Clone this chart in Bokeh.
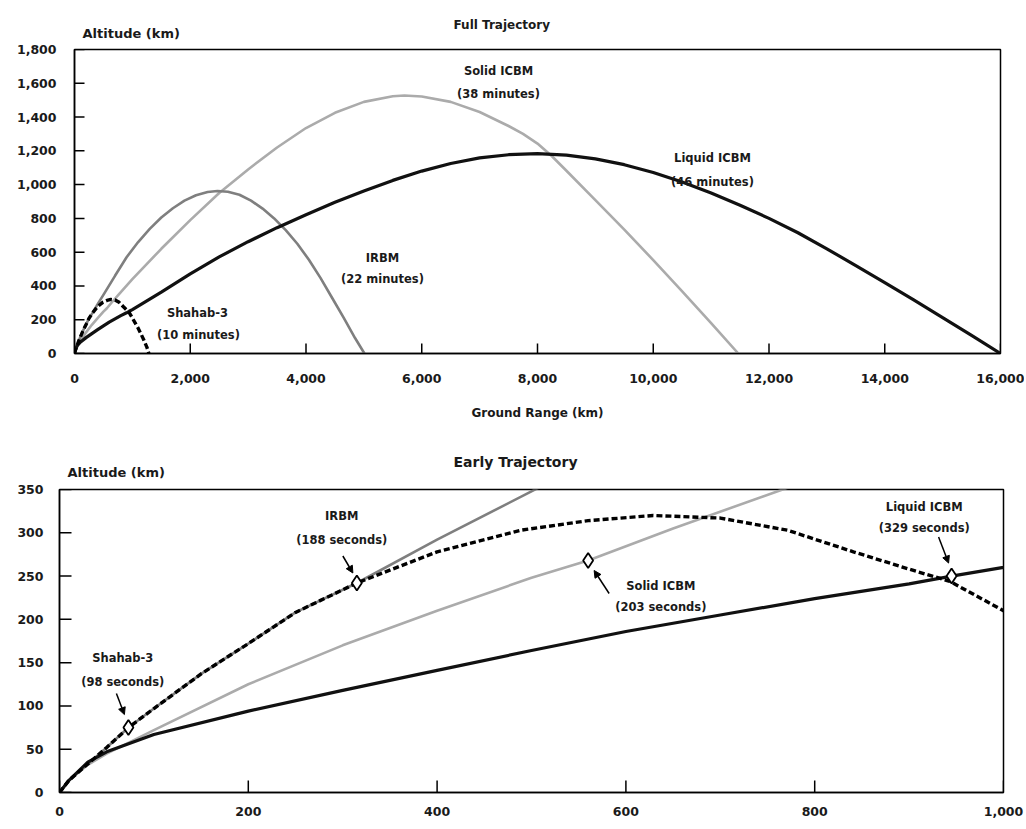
import math
from bokeh.plotting import figure
from bokeh.models import (Range1d, Label, Arrow, NormalHead, NumeralTickFormatter,
                          FixedTicker, Title)
from bokeh.layouts import column
from bokeh.embed import file_html
from bokeh.resources import INLINE

# ---------------- data (ground range km, altitude km) ----------------
liquid_range = [0, 10, 30, 50, 100, 200, 300, 400, 500, 600, 700, 800, 900, 945, 1000,
                1500, 2000, 2500, 3000, 3500, 4000, 4500, 5000, 5500, 6000, 6500, 7000,
                7500, 8000, 8500, 9000, 9500, 10000, 10500, 11000, 11500, 12000, 12500,
                13000, 13500, 14000, 14500, 15000, 15500, 16000]
liquid_alt = [0, 14, 35, 47, 67, 94, 118, 141, 164, 186, 205, 224, 241, 250, 260,
              364, 472, 572, 662, 745, 822, 895, 962, 1025, 1080, 1125, 1158,
              1177, 1183, 1175, 1152, 1118, 1072, 1015, 950, 878, 800, 715,
              620, 520, 420, 317, 213, 107, 0]

solid_range = [0, 10, 30, 50, 100, 200, 300, 400, 500, 560, 650, 766, 1000, 1500, 2000,
               2500, 3000, 3500, 4000, 4500, 5000, 5500, 5700, 6000, 6500, 7000, 7500,
               7750, 8000, 8250, 8500, 9000, 9500, 10000, 10500, 11000, 11470]
solid_alt = [0, 14, 32, 45, 72, 125, 170, 210, 248, 268, 305, 350, 440, 620, 790,
             950, 1090, 1220, 1335, 1425, 1490, 1523, 1528, 1522, 1490, 1430, 1347,
             1300, 1243, 1168, 1082, 908, 733, 553, 368, 180, 0]

irbm_range = [0, 10, 30, 50, 73, 100, 150, 200, 250, 315, 400, 502, 700, 900, 1100,
              1300, 1500, 1700, 1900, 2100, 2300, 2470, 2650, 2850, 3050, 3250, 3450,
              3650, 3850, 4050, 4250, 4450, 4650, 4850, 5010]
irbm_alt = [0, 14, 33, 52, 75, 97, 137, 172, 208, 242, 292, 349, 460, 570, 660,
            738, 805, 860, 905, 937, 956, 962, 958, 940, 905, 858, 800,
            730, 650, 555, 448, 330, 212, 90, 0]

shahab_range = [0, 10, 30, 50, 73, 100, 150, 200, 250, 315, 400, 489, 560, 629, 700,
                771, 841, 900, 943, 1000, 1050, 1100, 1150, 1200, 1250, 1285]
shahab_alt = [0, 14, 33, 52, 75, 97, 137, 172, 208, 242, 278, 303, 314, 320, 317,
              303, 278, 258, 244, 210, 180, 150, 115, 78, 38, 0]

# burnout points (early trajectory)
burnout_names = ["Shahab-3", "IRBM", "Solid ICBM", "Liquid ICBM"]
burnout_seconds = [98, 188, 203, 329]
burnout_range = [73, 315, 560, 945]
burnout_alt = [75, 242, 268, 250]

flight_minutes = {"Shahab-3": 10, "IRBM": 22, "Solid ICBM": 38, "Liquid ICBM": 46}

top_xticks = [0, 2000, 4000, 6000, 8000, 10000, 12000, 14000, 16000]
top_yticks = [0, 200, 400, 600, 800, 1000, 1200, 1400, 1600, 1800]
bot_xticks = [0, 200, 400, 600, 800, 1000]
bot_yticks = [0, 50, 100, 150, 200, 250, 300, 350]

# ---------------- styling ----------------
FONT = "DejaVu Sans"
TXT = "#1a1a1a"
C_LIQ = "#111111"
C_SOL = "#ababab"
C_IRBM = "#7f7f7f"


def style(p, xticks, yticks, xstand, ystand, tick_len):
    p.grid.visible = False
    p.frame_align = False
    p.outline_line_color = "black"
    p.outline_line_width = 1.5
    p.xaxis.ticker = FixedTicker(ticks=xticks)
    p.yaxis.ticker = FixedTicker(ticks=yticks)
    p.xaxis.formatter = NumeralTickFormatter(format="0,0")
    p.yaxis.formatter = NumeralTickFormatter(format="0,0")
    for ax in (p.xaxis, p.yaxis):
        ax.axis_line_width = 1.5
        ax.axis_line_color = "black"
        ax.major_tick_in = 0
        ax.major_tick_out = 0
        ax.major_tick_line_color = None
        ax.minor_tick_line_color = None
        ax.major_label_text_font = FONT
        ax.major_label_text_font_style = "bold"
        ax.major_label_text_font_size = "12.5px"
        ax.major_label_text_color = TXT
    p.xaxis.major_label_standoff = xstand
    p.yaxis.major_label_standoff = ystand
    # inward tick marks: dash markers centred on the axis, outer half clipped by the frame
    x0 = p.x_range.start
    y0 = p.y_range.start
    p.scatter(xticks, [y0] * len(xticks), marker="dash", angle=math.pi / 2,
              size=2 * tick_len, line_color="black", line_width=1.5)
    p.scatter([x0] * len(yticks), yticks, marker="dash",
              size=2 * tick_len, line_color="black", line_width=1.5)


def titles(p, main, main_size, main_offset, main_standoff, alt_offset, alt_standoff):
    # first added sits nearest to the frame
    p.add_layout(Title(text="Altitude (km)", align="left", offset=alt_offset,
                       standoff=alt_standoff, text_font=FONT, text_font_style="bold",
                       text_font_size="13px", text_color=TXT), "above")
    p.add_layout(Title(text=main, align="left", offset=main_offset,
                       standoff=main_standoff, text_font=FONT, text_font_style="bold",
                       text_font_size=main_size, text_color=TXT), "above")


def lab(p, x, y, text, align="center", size="11.5px"):
    p.add_layout(Label(x=x, y=y, text=text, text_align=align, text_baseline="middle",
                       text_font=FONT, text_font_style="bold", text_font_size=size,
                       text_color=TXT))


def curves(p, w):
    p.line(solid_range, solid_alt, line_color=C_SOL, line_width=w)
    p.line(irbm_range, irbm_alt, line_color=C_IRBM, line_width=w)
    p.line(liquid_range, liquid_alt, line_color=C_LIQ, line_width=w + 0.6)
    p.line(shahab_range, shahab_alt, line_color="black", line_width=w + 0.8, line_dash="6 3")


# ---------------- top panel: full trajectory ----------------
p1 = figure(width=1024, height=430, x_range=Range1d(0, 16000), y_range=Range1d(0, 1800),
            output_backend="svg", toolbar_location=None, title=None,
            min_border_left=74, min_border_right=24, min_border_top=49, min_border_bottom=77)
style(p1, top_xticks, top_yticks, 20, 18, 10)
p1.xaxis.axis_label = "Ground Range (km)"
p1.xaxis.axis_label_text_font = FONT
p1.xaxis.axis_label_text_font_style = "bold"
p1.xaxis.axis_label_text_font_size = "12px"
p1.xaxis.axis_label_text_color = TXT
p1.xaxis.axis_label_standoff = 20
titles(p1, "Full Trajectory", "12px", 379, -34, 8, 18)
curves(p1, 2.6)

lab(p1, 7326, 1670, "Solid ICBM")
lab(p1, 7326, 1539, f"({flight_minutes['Solid ICBM']} minutes)")
lab(p1, 11023, 1160, "Liquid ICBM")
lab(p1, 11023, 1018, f"({flight_minutes['Liquid ICBM']} minutes)")
lab(p1, 5321, 568, "IRBM")
lab(p1, 5321, 444, f"({flight_minutes['IRBM']} minutes)")
lab(p1, 2125, 237, "Shahab-3")
lab(p1, 2142, 107, f"({flight_minutes['Shahab-3']} minutes)")

# ---------------- bottom panel: early trajectory ----------------
p2 = figure(width=1024, height=398, x_range=Range1d(0, 1000), y_range=Range1d(0, 350),
            output_backend="svg", toolbar_location=None, title=None,
            min_border_left=59, min_border_right=21, min_border_top=59, min_border_bottom=36)
style(p2, bot_xticks, bot_yticks, 14, 16, 12)
titles(p2, "Early Trajectory", "14px", 394, -35, 8, 20)
curves(p2, 2.6)

# label anchors (data units) and arrow offsets (screen px relative to the marker)
label_pos = [(67, 155, 128), (299, 319, 292), (637, 238, 214), (916, 330, 306)]
arrow_px = [((-12, 34), (-4, 13)), ((-14, 27), (-4, 10)), ((21, -33), (6, -10)), ((-13, 39), (-3, 13))]
KX = 1000 / 944.0
KY = 350 / 303.0
for i, name in enumerate(burnout_names):
    lx, ly1, ly2 = label_pos[i]
    lab(p2, lx, ly1, name)
    lab(p2, lx, ly2, f"({burnout_seconds[i]} seconds)")
    (tx, ty), (hx, hy) = arrow_px[i]
    bx, by = burnout_range[i], burnout_alt[i]
    p2.add_layout(Arrow(end=NormalHead(size=7, fill_color="black", line_color="black"),
                        x_start=bx + tx * KX, y_start=by + ty * KY,
                        x_end=bx + hx * KX, y_end=by + hy * KY,
                        line_width=1.5, line_color="black"))

p2.scatter(burnout_range, burnout_alt, marker="diamond", size=15,
           fill_color="white", line_color="black", line_width=1.8)

layout = column(p1, p2)
open("out.html", "w").write(file_html(layout, INLINE))
